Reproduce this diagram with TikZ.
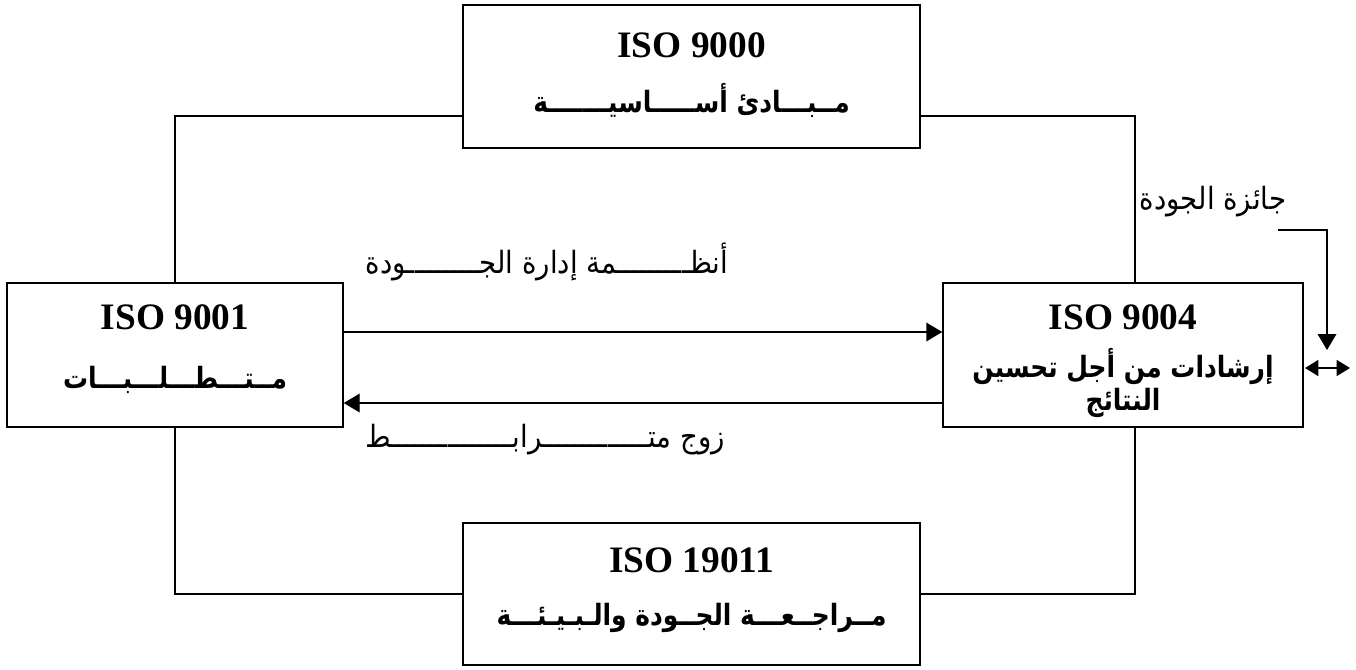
\documentclass[tikz,border=0pt]{standalone}
\usepackage{fontspec}
\setmainfont{Liberation Serif}
\newfontfamily\arabicfont[Script=Arabic, FakeStretch=0.9]{DejaVu Sans}
\newfontfamily\arabicboldfont[Script=Arabic, FakeStretch=0.85]{DejaVu Sans Bold}
\TeXXeTstate=1
\usetikzlibrary{arrows.meta,calc}

\tikzset{
  box/.style={draw, line width=1.1pt, rectangle, inner sep=0pt},
  isotext/.style={font=\fontsize{28}{30}\selectfont\bfseries, inner sep=0pt},
  artext/.style={font=\arabicboldfont\fontsize{22}{26}\selectfont, inner sep=0pt},
  lbl/.style={font=\arabicfont\fontsize{23}{26}\selectfont, inner sep=0pt},
  link/.style={line width=1.1pt},
  arr/.style={line width=1.1pt, -{Triangle[length=12pt,width=14pt]}},
  darr/.style={line width=1.1pt, {Triangle[length=10pt,width=12pt]}-{Triangle[length=10pt,width=12pt]}}
}

\begin{document}
\begin{tikzpicture}[x=0.75pt, y=-0.75pt]
  \useasboundingbox (0,0) rectangle (1356,669);

  % the four standards
  \node[box, minimum width=457*0.75pt, minimum height=143*0.75pt] (top) at (691.5,76.5) {};
  \node[box, minimum width=336*0.75pt, minimum height=144*0.75pt] (left) at (175,355) {};
  \node[box, minimum width=360*0.75pt, minimum height=144*0.75pt] (right) at (1123,355) {};
  \node[box, minimum width=457*0.75pt, minimum height=142*0.75pt] (bottom) at (691.5,594) {};

  % box contents
  \node[isotext] (topiso) at (691.5,45) {ISO 9000};
  \node[artext] (topar) at (691.5,100) {\beginR مــبـــادئ أســـــاسيـــــــة\endR};
  \node[isotext] (leftiso) at (175,317) {ISO 9001};
  \node[artext] (leftar) at (175,380) {\beginR مــتـــطـــلـــبـــات\endR};
  \node[isotext] (rightiso) at (1123,317) {ISO 9004};
  \node[artext] (rightar1) at (1123,367) {\beginR إرشادات من أجل تحسين\endR};
  \node[artext] (rightar2) at (1123,403) {\beginR النتائج\endR};
  \node[isotext] (bottomiso) at (691.5,560) {ISO 19011};
  \node[artext] (bottomar) at (691.5,618) {\beginR مــراجــعـــة الجــودة والـبـيـئـــة\endR};

  % labels
  \node[lbl] (qms) at (547,262) {\beginR أنظـــــــــمة إدارة الجـــــــــودة\endR};
  \node[lbl] (pair) at (545,440) {\beginR زوج متـــــــــــــرابـــــــــــــــط\endR};
  \node[lbl] (award) at (1213,202) {\beginR جائزة الجودة\endR};

  % frame connections
  \coordinate (tl) at ($(top.west)+(0,39.5)$);
  \coordinate (tr) at ($(top.east)+(0,39.5)$);
  \coordinate (rn) at ($(right.north)+(12,0)$);
  \coordinate (rs) at ($(right.south)+(12,0)$);
  \draw[link] (left.north) |- (tl);
  \draw[link] (tr) -| (rn);
  \draw[link] (left.south) |- (bottom.west);
  \draw[link] (bottom.east) -| (rs);

  % information flow between 9001 and 9004
  \coordinate (la) at ($(left.east)+(0,-23)$);
  \coordinate (lb) at ($(left.east)+(0,48)$);
  \draw[arr] (la) -- (la -| right.west);
  \draw[arr] (lb -| right.west) -- (lb);

  % quality award input
  \coordinate (aw) at (1278,230);
  \coordinate (awend) at (1327,350);
  \draw[arr] (aw) -| (awend);
  \coordinate (d1) at (1305,368);
  \coordinate (d2) at (1350,368);
  \draw[darr] (d1) -- (d2);
\end{tikzpicture}
\end{document}
